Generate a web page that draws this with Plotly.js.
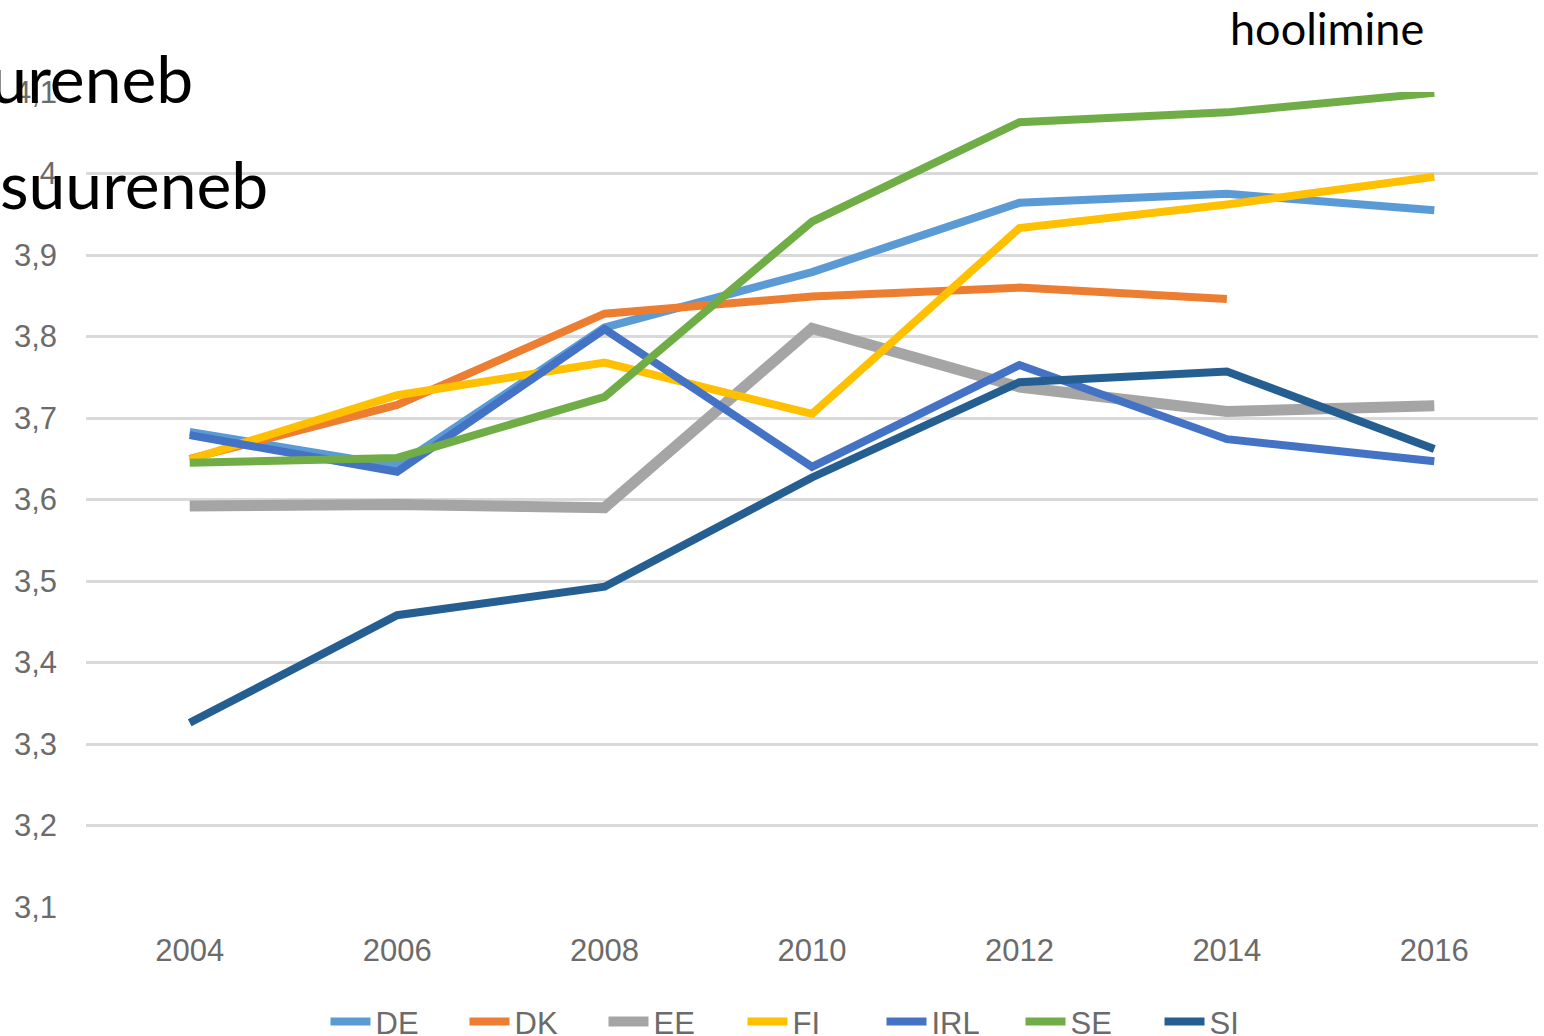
<!DOCTYPE html>
<html>
<head>
<meta charset="utf-8">
<script src="https://cdn.plot.ly/plotly-3.0.1.min.js"></script>
<style>
  html, body { margin: 0; padding: 0; background: #fff; }
  #graph { width: 1544px; height: 1036px; }
</style>
</head>
<body>
<div id="graph"></div>
<script>
// years on the category axis
var years = ["2004", "2006", "2008", "2010", "2012", "2014", "2016"];

// values per country
var DE  = [3.683, 3.641, 3.811, 3.879, 3.964, 3.975, 3.955];
var DK  = [3.650, 3.716, 3.828, 3.849, 3.860, 3.846, null];
var EE  = [3.592, 3.594, 3.590, 3.810, 3.738, 3.708, 3.715];
var FI  = [3.649, 3.728, 3.768, 3.705, 3.933, 3.962, 3.996];
var IRL = [3.679, 3.634, 3.809, 3.640, 3.765, 3.674, 3.647];
var SE  = [3.645, 3.651, 3.726, 3.941, 4.063, 4.075, 4.099];
var SI  = [3.326, 3.458, 3.493, 3.627, 3.744, 3.757, 3.662];

var names = ["DE", "DK", "EE", "FI", "IRL", "SE", "SI"];
var series = [DE, DK, EE, FI, IRL, SE, SI];
var colors = ["#5B9BD5", "#ED7D31", "#A5A5A5", "#FFC000", "#4472C4", "#70AD47", "#255E91"];

// y ticks, excel style with comma
var yTickVals = [3.1, 3.2, 3.3, 3.4, 3.5, 3.6, 3.7, 3.8, 3.9, 4.0, 4.1];
var yTickText = ["3,1", "3,2", "3,3", "3,4", "3,5", "3,6", "3,7", "3,8", "3,9", "4", "4,1"];

function drawGraph() {
    var data = [];
    for (var i = 0; i < names.length; i++) {
        data.push({
            x: years,
            y: series[i],
            type: "scatter",
            mode: "lines",
            name: names[i],
            connectgaps: false,
            line: { color: colors[i], width: names[i] === "EE" ? 11 : 8 }
        });
    }

    var tickFont = { family: "Liberation Sans Narrow, Liberation Sans, sans-serif", size: 31, color: "#6b6b6b" };
    var bigFont = { family: "Lato, Open Sans, sans-serif", size: 66, color: "#000000" };

    var layout = {
        width: 1544,
        height: 1036,
        margin: { l: 86, r: 6, t: 92, b: 129, autoexpand: false },
        paper_bgcolor: "#ffffff",
        plot_bgcolor: "#ffffff",
        showlegend: true,
        legend: {
            orientation: "h",
            x: 0.5,
            xanchor: "center",
            y: -0.141,
            yanchor: "middle",
            font: tickFont,
            entrywidth: 84,
            itemwidth: 40
        },
        xaxis: {
            type: "category",
            range: [-0.5, 6.5],
            showgrid: false,
            zeroline: false,
            showline: false,
            ticks: "",
            tickfont: tickFont,
            ticklabelstandoff: 22
        },
        yaxis: {
            range: [3.1, 4.1],
            tickvals: yTickVals,
            ticktext: yTickText,
            showgrid: true,
            gridcolor: "#D9D9D9",
            gridwidth: 3,
            zeroline: false,
            showline: false,
            ticks: "",
            tickfont: tickFont,
            ticklabelstandoff: 28
        },
        annotations: [
            {
                text: "suureneb", xref: "paper", yref: "paper",
                x: (195 - 86) / 1452.5, xanchor: "right",
                y: 1.018, yanchor: "middle",
                showarrow: false, font: bigFont
            },
            {
                text: "suureneb", xref: "paper", yref: "paper",
                x: -88 / 1452.5, xanchor: "left",
                y: 0.888, yanchor: "middle",
                showarrow: false, font: bigFont
            },
            {
                text: "hoolimine", xref: "paper", yref: "paper",
                x: 0.855, xanchor: "center",
                y: 1.079, yanchor: "middle",
                showarrow: false,
                font: { family: "Lato, Open Sans, sans-serif", size: 45, color: "#000000" }
            }
        ]
    };

    Plotly.newPlot("graph", data, layout, { displayModeBar: false, staticPlot: true });
}

drawGraph();
</script>
</body>
</html>
